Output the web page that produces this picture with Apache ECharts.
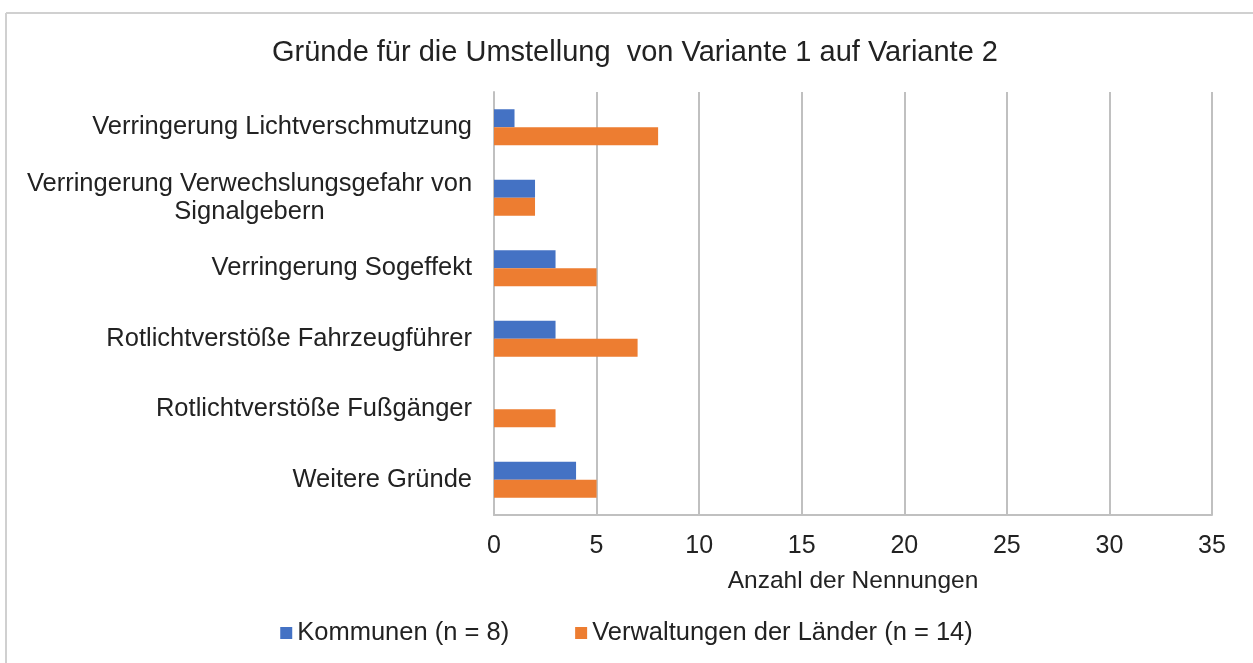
<!DOCTYPE html>
<html>
<head>
<meta charset="utf-8">
<script src="https://cdn.jsdelivr.net/npm/echarts@6/dist/echarts.min.js"></script>
<style>
  html, body { margin: 0; padding: 0; background: #fff; }
  #chart { width: 1253px; height: 663px; }
</style>
</head>
<body>
<div id="chart"></div>
<script>
// Kategorien von oben nach unten
var kategorien = [
  'Verringerung Lichtverschmutzung',
  'Verringerung Verwechslungsgefahr von\nSignalgebern',
  'Verringerung Sogeffekt',
  'Rotlichtverstöße Fahrzeugführer',
  'Rotlichtverstöße Fußgänger',
  'Weitere Gründe'
]
var kommunen = [1, 2, 3, 3, 0, 4]
var laender = [8, 2, 5, 7, 3, 5]
var serienNamen = ['Kommunen (n = 8)', 'Verwaltungen der Länder (n = 14)']

var schrift = 'Liberation Sans, Arial, sans-serif'
var labelGroesse = 25.5

// mehrzeilige Beschriftung: Zeilen zentriert untereinander (wie in Excel)
var ctx = document.createElement('canvas').getContext('2d')
ctx.font = labelGroesse + 'px ' + schrift
function zeilenBreite(text) {
  return Math.round(Math.max.apply(null, text.split('\n').map(function (z) { return ctx.measureText(z).width })))
}
function labelFormat(wert) {
  var zeilen = wert.split('\n')
  if (zeilen.length < 2) return wert
  var b = zeilenBreite(wert)
  return zeilen.map(function (z) { return '{z' + b + '|' + z + '}' }).join('\n')
}
var rich = {}
kategorien.forEach(function (k) {
  if (k.indexOf('\n') >= 0) {
    var b = zeilenBreite(k)
    rich['z' + b] = { width: b, align: 'center', fontFamily: schrift, fontSize: labelGroesse, color: '#222', lineHeight: 28 }
  }
})

var chart = echarts.init(document.getElementById('chart'))
var option = {
  animation: false,
  color: ['#4472C4', '#ED7D31'],
  title: {
    text: 'Gründe für die Umstellung  von Variante 1 auf Variante 2',
    left: 630,
    textAlign: 'center',
    top: 33,
    textStyle: { fontFamily: schrift, fontSize: 29, fontWeight: 'normal', color: '#222' }
  },
  legend: {
    bottom: 12,
    left: 'center',
    itemWidth: 12,
    itemHeight: 12,
    itemGap: 66,
    icon: 'rect',
    textStyle: { fontFamily: schrift, fontSize: 25.5, color: '#222' },
    data: serienNamen
  },
  grid: { left: 494, right: 41, top: 92, bottom: 148 },
  xAxis: {
    type: 'value',
    min: 0,
    max: 35,
    interval: 5,
    name: 'Anzahl der Nennungen',
    nameLocation: 'middle',
    nameGap: 54,
    nameTextStyle: { fontFamily: schrift, fontSize: 24.5, color: '#222' },
    axisLine: { show: true, lineStyle: { color: '#c0c0c0', width: 2 } },
    axisTick: { show: false },
    axisLabel: { fontFamily: schrift, fontSize: 25, color: '#222', margin: 19 },
    splitLine: { show: true, lineStyle: { color: '#c0c0c0', width: 2 } }
  },
  yAxis: {
    type: 'category',
    inverse: true,
    data: kategorien,
    axisLine: { show: true, lineStyle: { color: '#c0c0c0', width: 2 } },
    axisTick: { show: false },
    axisLabel: {
      fontFamily: schrift, fontSize: labelGroesse, color: '#222', margin: 22,
      align: 'right', lineHeight: 28, formatter: labelFormat, rich: rich
    }
  },
  series: [
    { name: serienNamen[0], type: 'bar', data: kommunen, barWidth: 18, barGap: '0%' },
    { name: serienNamen[1], type: 'bar', data: laender, barWidth: 18, barGap: '0%' }
  ],
  graphic: [
    { type: 'line', shape: { x1: 6, y1: 13, x2: 1253, y2: 13 }, style: { stroke: '#d0d0d0', lineWidth: 2 } },
    { type: 'line', shape: { x1: 6, y1: 13, x2: 6, y2: 663 }, style: { stroke: '#d0d0d0', lineWidth: 2 } }
  ]
}
chart.setOption(option)
</script>
</body>
</html>
